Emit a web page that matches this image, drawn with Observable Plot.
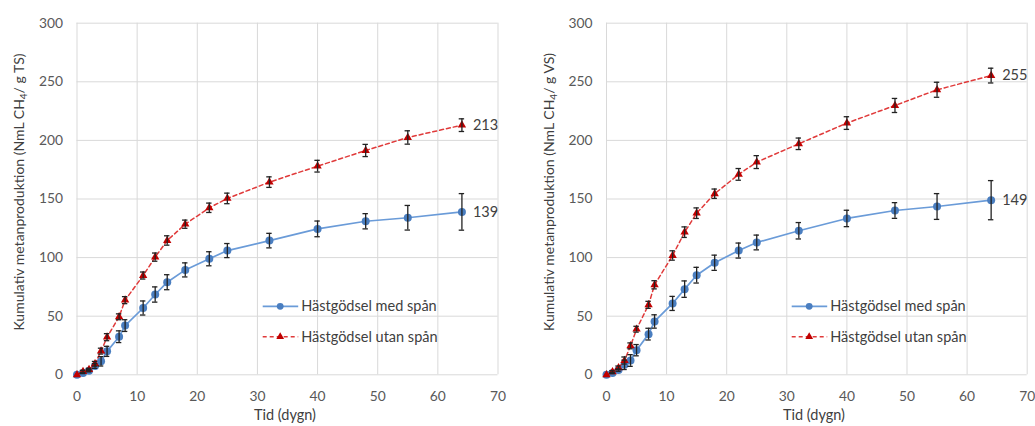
<!DOCTYPE html>
<html><head><meta charset="utf-8">
<script src="https://cdn.jsdelivr.net/npm/d3@7"></script>
<script src="https://cdn.jsdelivr.net/npm/@observablehq/plot@0.6"></script>
<style>
body{margin:0;background:#fff;}
#wrap{display:flex;width:1035px;height:426px;overflow:hidden;}
#wrap svg{font-family:Lato,"Open Sans",sans-serif;display:block;}
</style></head><body><div id="wrap"></div>
<script>
// Time points (days)
const days = [0,1,2,3,4,5,7,8,11,13,15,18,22,25,32,40,48,55,64];
const xTicks = [0,10,20,30,40,50,60,70];
const yTicks = [0,50,100,150,200,250,300];
const seriesNames = ["Hästgödsel med spån","Hästgödsel utan spån"];

// Per g TS
const tsMed     = [0,1.5,3.5,7.5,11.5,20,32.5,42,57,68.5,79,89.5,99,106,114.5,124.5,131,134,139];
const tsMedErr  = [0,0.5,1,2,4,4.3,5,5,6,6.5,6.4,6,6,6,6.2,6.7,6.5,10.5,15.6];
const tsUtan    = [0,2.8,4.5,9.4,20.2,32.1,49.5,63.7,84.7,100.4,114.6,128.5,142.5,150.5,164.4,178,191.4,202.5,213];
const tsUtanErr = [0,1,1,2,2.5,3,2.5,3,3,3.5,4,3.5,4,4.5,4.5,5,5.2,5.7,5.4];

// Per g VS
const vsMed     = [0,1.5,4,8.5,12.2,21,34.7,45.5,60.9,73.1,85,95.6,106,112.9,122.9,133.4,140.2,143.6,149];
const vsMedErr  = [0,0.5,1,4,5,4.8,5,5.7,6,7,6.7,6.5,6.4,6.3,7,7,6.7,11,16.7];
const vsUtan    = [0,2.5,6,12.2,24.7,38.9,59.7,76.8,101.8,121.7,137.9,154.5,171,181.5,197.1,214.8,229.8,243.2,255.3];
const vsUtanErr = [0,1,1.5,3,2.5,2.5,3,3.5,4,4.5,4.5,4,5,5.5,4.9,5.4,6,6.4,6.3];

const BLUE_LINE = "#6a9bd8", BLUE_DOT = "#4a7ec0";
const RED_LINE = "#e03a3a", RED_DOT = "#c00000";
const TXT = "#595959";

function rows(vals, errs){ return days.map((t,i)=>({t, v: vals[i], e: errs[i]})); }

function panel({width, marginLeft, marginRight, med, medErr, utan, utanErr, unit, yLabX, xLabX, legX}){
  const A = rows(med, medErr), B = rows(utan, utanErr);
  const errRows = [...A, ...B].filter(d => d.e > 0);
  const capW = 0.45;
  const lastA = A[A.length-1], lastB = B[B.length-1];
  const svg = Plot.plot({
    width, height: 426, marginLeft, marginRight, marginTop: 22.7, marginBottom: 51.7,
    style: {fontFamily: "Lato, 'Open Sans', sans-serif", fontSize: "13.8px", color: TXT, background: "white", overflow: "visible"},
    x: {domain: [0,70]},
    y: {domain: [0,300]},
    marks: [
      Plot.gridX({ticks: xTicks, stroke: "#d9d9d9", strokeOpacity: 1, strokeWidth: 1}),
      Plot.gridY({ticks: yTicks, stroke: "#d9d9d9", strokeOpacity: 1, strokeWidth: 1}),
      Plot.axisX({ticks: xTicks, tickSize: 0, tickPadding: 16, label: null, fill: TXT, tickFormat: d => String(d)}),
      Plot.axisY({ticks: yTicks, tickSize: 0, tickPadding: 14, label: null, fill: TXT, tickFormat: d => String(d)}),
      Plot.line(A, {x: "t", y: "v", stroke: BLUE_LINE, strokeWidth: 1.7}),
      Plot.dot(A, {x: "t", y: "v", fill: BLUE_DOT, r: 4}),
      Plot.line(B, {x: "t", y: "v", stroke: RED_LINE, strokeWidth: 1.5, strokeDasharray: "4,3"}),
      Plot.dot(B, {x: "t", y: "v", fill: RED_DOT, r: 3.1, symbol: "triangle"}),
      Plot.ruleX(errRows, {x: "t", y1: d => d.v - d.e, y2: d => d.v + d.e, stroke: "#222", strokeWidth: 1.3}),
      Plot.ruleY(errRows, {y: d => d.v - d.e, x1: d => d.t - capW, x2: d => d.t + capW, stroke: "#222", strokeWidth: 1.3}),
      Plot.ruleY(errRows, {y: d => d.v + d.e, x1: d => d.t - capW, x2: d => d.t + capW, stroke: "#222", strokeWidth: 1.3}),
      Plot.text([lastA, lastB], {x: "t", y: "v", text: d => String(Math.round(d.v)), textAnchor: "start", dx: 11, fill: "#404040", fontSize: 14.5})
    ]
  });
  const s = d3.select(svg);
  // Y axis title
  const yl = s.append("text")
    .attr("transform", `translate(${yLabX},192) rotate(-90)`)
    .attr("text-anchor", "middle").attr("fill", "#404040").attr("font-size", 14);
  yl.append("tspan").text("Kumulativ metanproduktion (NmL CH");
  yl.append("tspan").attr("dy", 3).attr("font-size", 10).text("4");
  yl.append("tspan").attr("dy", -3).text(`/ g ${unit})`);
  // X axis title
  s.append("text").attr("x", xLabX).attr("y", 420).attr("text-anchor", "middle")
    .attr("fill", "#404040").attr("font-size", 14.5).text("Tid (dygn)");
  // Legend
  const lg = s.append("g");
  const y1 = 306.3, y2 = 336.8;
  lg.append("line").attr("x1", legX).attr("x2", legX + 35.5).attr("y1", y1).attr("y2", y1)
    .attr("stroke", BLUE_LINE).attr("stroke-width", 1.7);
  lg.append("circle").attr("cx", legX + 17.5).attr("cy", y1).attr("r", 3.4).attr("fill", BLUE_DOT);
  lg.append("line").attr("x1", legX).attr("x2", legX + 35.5).attr("y1", y2).attr("y2", y2)
    .attr("stroke", RED_LINE).attr("stroke-width", 1.5).attr("stroke-dasharray", "4,3");
  lg.append("path").attr("d", d3.symbol(d3.symbolTriangle, Math.PI * 2.9 * 2.9)())
    .attr("transform", `translate(${legX + 17.5},${y2})`).attr("fill", RED_DOT);
  lg.append("text").attr("x", legX + 38.5).attr("y", y1).attr("dy", "0.35em").attr("text-anchor", "start")
    .attr("fill", "#404040").attr("font-size", 14.5).text(seriesNames[0]);
  lg.append("text").attr("x", legX + 38.5).attr("y", y2).attr("dy", "0.35em").attr("text-anchor", "start")
    .attr("fill", "#404040").attr("font-size", 14.5).text(seriesNames[1]);
  return svg;
}

const wrap = document.getElementById("wrap");
wrap.append(panel({width: 517, marginLeft: 76.5, marginRight: 19.5, med: tsMed, medErr: tsMedErr, utan: tsUtan, utanErr: tsUtanErr, unit: "TS", yLabX: 23.5, xLabX: 285, legX: 262.7}));
wrap.append(panel({width: 518, marginLeft: 89, marginRight: 8.3, med: vsMed, medErr: vsMedErr, utan: vsUtan, utanErr: vsUtanErr, unit: "VS", yLabX: 37, xLabX: 297, legX: 274.7}));
</script>
</body></html>
